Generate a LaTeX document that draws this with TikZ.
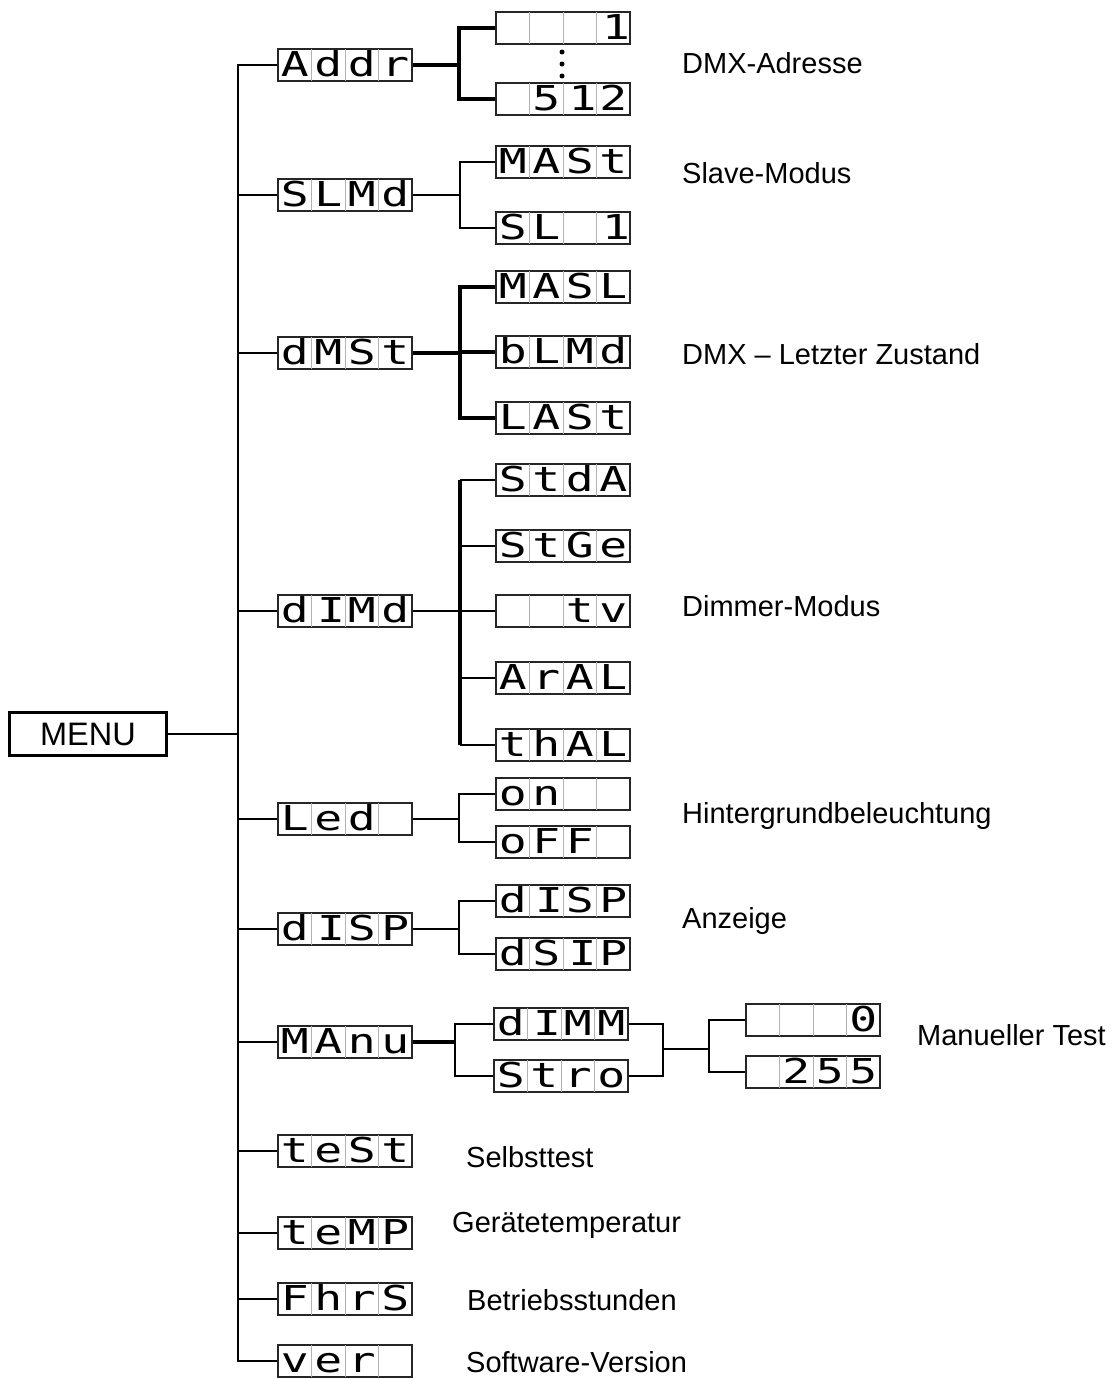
\documentclass[tikz,border=0pt]{standalone}
\usepackage{fontspec}
\setmainfont{Liberation Sans}
\newfontfamily\lcdfont[FakeStretch=1.35]{DejaVu Sans Mono}

% one cell of a four digit display, and the grey divider between cells
\newcommand{\lcdcell}[1]{\makebox[0.67cm]{\rule[-0.09cm]{0pt}{0.64cm}#1}}
\newcommand{\lcdsep}{\makebox[0pt]{\color{black!30}\vrule width 0.5pt height 0.55cm depth 0.09cm}}
\newcommand{\lcdtext}[4]{\lcdcell{#1}\lcdsep\lcdcell{#2}\lcdsep\lcdcell{#3}\lcdsep\lcdcell{#4}}

\tikzset{
    lcd/.style={draw=black!85, line width=1.2pt, inner sep=0pt, anchor=west,
        font=\lcdfont\fontsize{19.5}{19.5}\selectfont},
    lbl/.style={anchor=west, font=\fontsize{16.5}{20}\selectfont},
    link/.style={line width=1.1pt},
    heavy/.style={line width=2pt}
}

\begin{document}
\begin{tikzpicture}[x=0.02cm, y=-0.02cm]
    \useasboundingbox (0,0) rectangle (1113,1379);

    \node[draw, line width=1.3pt, minimum width=3.14cm, minimum height=0.86cm,
        font=\fontsize{18.5}{20}\selectfont] (menu) at (88,734) {MENU};
    \coordinate (trunk) at (238,0);

    % first level
    \node[lcd] (addr) at (277,65) {\lcdtext{A}{d}{d}{r}};
    \node[lcd] (slmd) at (277,195) {\lcdtext{S}{L}{M}{d}};
    \node[lcd] (dmst) at (277,353) {\lcdtext{d}{M}{S}{t}};
    \node[lcd] (dimd) at (277,611) {\lcdtext{d}{\hfill I}{M}{d}};
    \node[lcd] (led) at (277,819) {\lcdtext{L}{e}{d}{}};
    \node[lcd] (disp) at (277,929) {\lcdtext{d}{\hfill I}{S}{P}};
    \node[lcd] (manu) at (277,1042) {\lcdtext{M}{A}{n}{u}};
    \node[lcd] (test) at (277,1151) {\lcdtext{t}{e}{S}{t}};
    \node[lcd] (temp) at (277,1233) {\lcdtext{t}{e}{M}{P}};
    \node[lcd] (fhrs) at (277,1299) {\lcdtext{F}{h}{r}{S}};
    \node[lcd] (ver) at (277,1361) {\lcdtext{v}{e}{r}{}};

    \draw[link] (menu.east) -- (menu.east -| trunk);
    \draw[link] (addr.west) -- (addr.west -| trunk) -- (ver.west -| trunk) -- (ver.west);
    \draw[link] (slmd.west) -- (slmd.west -| trunk);
    \draw[link] (dmst.west) -- (dmst.west -| trunk);
    \draw[link] (dimd.west) -- (dimd.west -| trunk);
    \draw[link] (led.west) -- (led.west -| trunk);
    \draw[link] (disp.west) -- (disp.west -| trunk);
    \draw[link] (manu.west) -- (manu.west -| trunk);
    \draw[link] (test.west) -- (test.west -| trunk);
    \draw[link] (temp.west) -- (temp.west -| trunk);
    \draw[link] (fhrs.west) -- (fhrs.west -| trunk);

    % Addr
    \coordinate (addrfork) at (459,65);
    \node[lcd] (adr1) at (495,28) {\lcdtext{}{}{}{\hfill 1}};
    \node[lcd] (adr512) at (495,99) {\lcdtext{}{5}{\hfill 1}{2}};
    \draw[heavy] (addr.east) -- (addrfork);
    \draw[heavy] (adr1.west) -| (addrfork) |- (adr512.west);
    \fill (562,52) circle[radius=0.05cm] (562,64) circle[radius=0.05cm] (562,76) circle[radius=0.05cm];
    \node[lbl] (addrlbl) at (676,63) {DMX-Adresse};

    % SLMd
    \coordinate (slmdfork) at (460,195);
    \node[lcd] (mast) at (495,162) {\lcdtext{M}{A}{S}{t}};
    \node[lcd] (sl1) at (495,228) {\lcdtext{S}{L}{}{\hfill 1}};
    \draw[link] (slmd.east) -- (slmdfork);
    \draw[link] (mast.west) -| (slmdfork) |- (sl1.west);
    \node[lbl] (slmdlbl) at (676,173) {Slave-Modus};

    % dMSt
    \coordinate (dmstfork) at (460,353);
    \node[lcd] (masl) at (495,287) {\lcdtext{M}{A}{S}{L}};
    \node[lcd] (blmd) at (495,352) {\lcdtext{b}{L}{M}{d}};
    \node[lcd] (last) at (495,418) {\lcdtext{L}{A}{S}{t}};
    \draw[heavy] (dmst.east) -- (dmstfork);
    \draw[heavy] (masl.west) -| (dmstfork) |- (last.west);
    \draw[heavy] (blmd.west) -- (blmd.west -| dmstfork);
    \node[lbl] (dmstlbl) at (676,354) {DMX -- Letzter Zustand};

    % dIMd
    \coordinate (dimdfork) at (460,611);
    \node[lcd] (stda) at (495,480) {\lcdtext{S}{t}{d}{A}};
    \node[lcd] (stge) at (495,546) {\lcdtext{S}{t}{G}{e}};
    \node[lcd] (tv) at (495,611) {\lcdtext{}{}{t}{v}};
    \node[lcd] (aral) at (495,678) {\lcdtext{A}{r}{A}{L}};
    \node[lcd] (thal) at (495,745) {\lcdtext{t}{h}{A}{L}};
    \draw[link] (dimd.east) -- (dimdfork);
    \draw[heavy] (stda.west -| dimdfork) -- (thal.west -| dimdfork);
    \draw[link] (stda.west) -- (stda.west -| dimdfork);
    \draw[link] (stge.west) -- (stge.west -| dimdfork);
    \draw[link] (tv.west) -- (tv.west -| dimdfork);
    \draw[link] (aral.west) -- (aral.west -| dimdfork);
    \draw[link] (thal.west) -- (thal.west -| dimdfork);
    \node[lbl] (dimdlbl) at (676,606) {Dimmer-Modus};

    % LEd
    \coordinate (ledfork) at (459,819);
    \node[lcd] (on) at (495,794) {\lcdtext{o}{n}{}{}};
    \node[lcd] (off) at (495,842) {\lcdtext{o}{F}{F}{}};
    \draw[link] (led.east) -- (ledfork);
    \draw[link] (on.west) -| (ledfork) |- (off.west);
    \node[lbl] (ledlbl) at (676,816) {Hintergrundbeleuchtung};

    % dISP
    \coordinate (dispfork) at (459,929);
    \node[lcd] (dispa) at (495,901) {\lcdtext{d}{\hfill I}{S}{P}};
    \node[lcd] (dsip) at (495,954) {\lcdtext{d}{S}{\hfill I}{P}};
    \draw[link] (disp.east) -- (dispfork);
    \draw[link] (dispa.west) -| (dispfork) |- (dsip.west);
    \node[lbl] (displbl) at (676,921) {Anzeige};

    % MAnu
    \coordinate (manufork) at (455,1042);
    \coordinate (manujoin) at (663,1049);
    \coordinate (valfork) at (709,1049);
    \node[lcd] (dimm) at (493,1024) {\lcdtext{d}{\hfill I}{M}{M}};
    \node[lcd] (stro) at (493,1076) {\lcdtext{S}{t}{r}{o}};
    \node[lcd] (val0) at (745,1020) {\lcdtext{}{}{}{0}};
    \node[lcd] (val255) at (745,1072) {\lcdtext{}{2}{5}{5}};
    \draw[heavy] (manu.east) -- (manufork);
    \draw[link] (dimm.west) -| (manufork) |- (stro.west);
    \draw[link] (dimm.east) -| (manujoin) |- (stro.east);
    \draw[link] (manujoin) -- (valfork);
    \draw[link] (val0.west) -| (valfork) |- (val255.west);
    \node[lbl] (manulbl) at (911,1035) {Manueller Test};

    % single entries
    \node[lbl] (testlbl) at (460,1157) {Selbsttest};
    \node[lbl] (templbl) at (446,1225) {Gerätetemperatur};
    \node[lbl] (fhrslbl) at (461,1300) {Betriebsstunden};
    \node[lbl] (verlbl) at (460,1362) {Software-Version};
\end{tikzpicture}
\end{document}
